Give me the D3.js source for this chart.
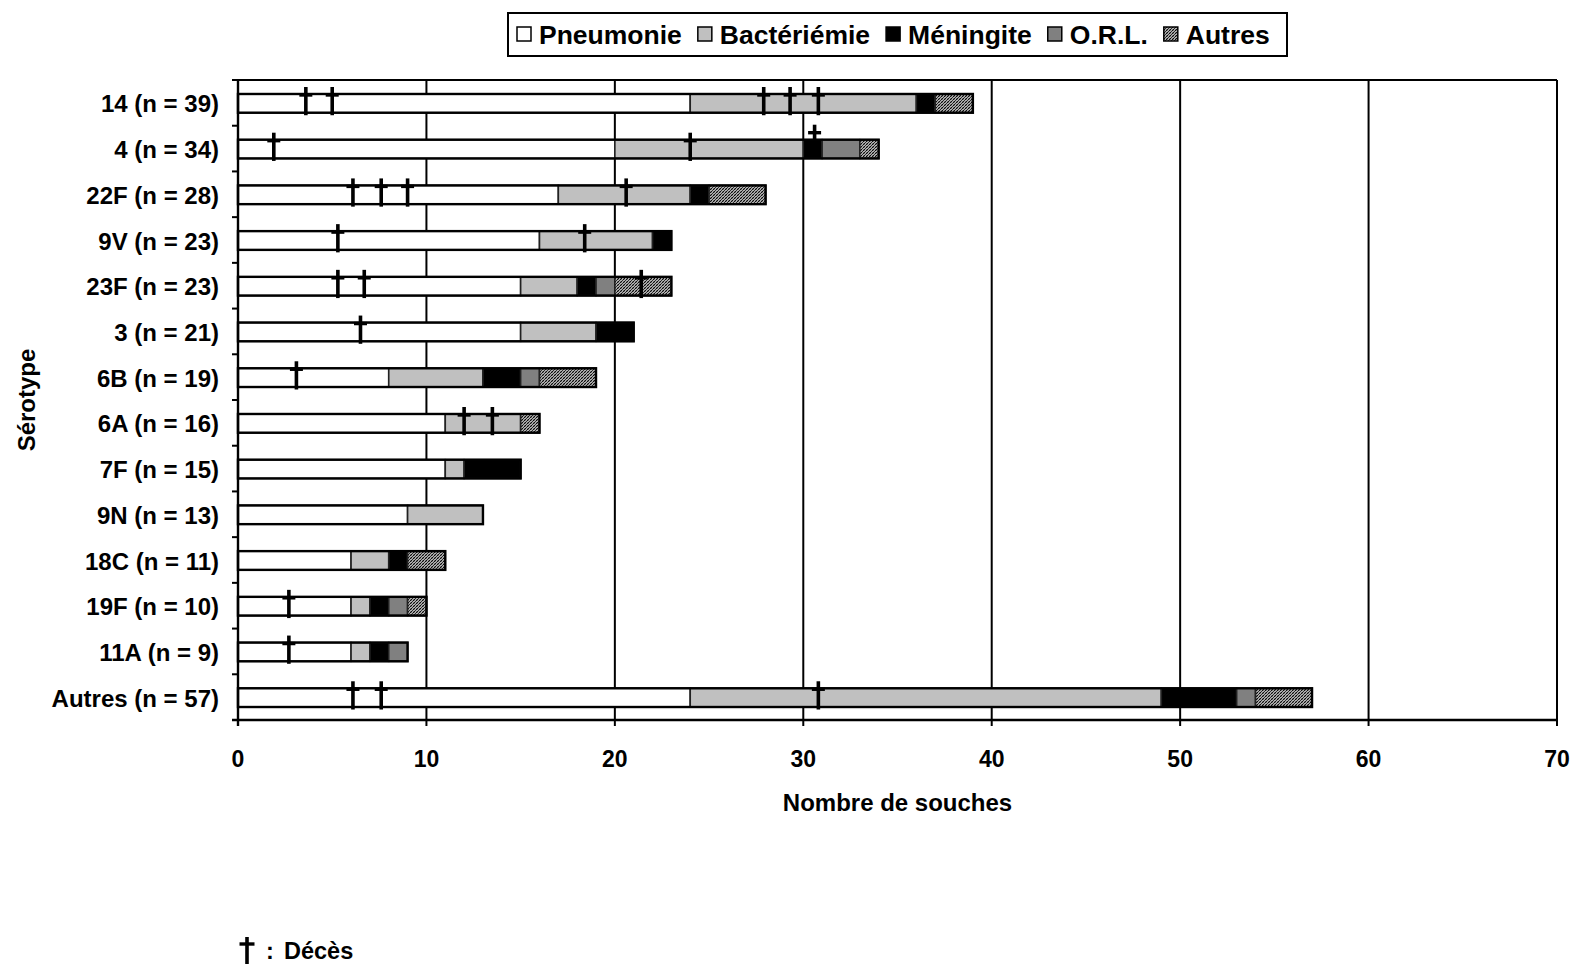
<!DOCTYPE html>
<html>
<head>
<meta charset="utf-8">
<script src="https://cdn.jsdelivr.net/npm/d3@7"></script>
<style>
  html, body { margin: 0; padding: 0; background: #fff; }
  svg { display: block; font-family: "Liberation Sans", Arial, sans-serif; font-weight: bold; }
</style>
</head>
<body>
<svg id="chart" width="1575" height="966"></svg>
<script>
// Sérotypes (ordre d'affichage, du haut vers le bas)
const serotypes = ["14 (n = 39)", "4 (n = 34)", "22F (n = 28)", "9V (n = 23)", "23F (n = 23)",
  "3 (n = 21)", "6B (n = 19)", "6A (n = 16)", "7F (n = 15)", "9N (n = 13)",
  "18C (n = 11)", "19F (n = 10)", "11A (n = 9)", "Autres (n = 57)"];

// Nombre de souches par type d'infection
const pneumonie   = [24, 20, 17, 16, 15, 15, 8, 11, 11, 9, 6, 6, 6, 24];
const bacteriemie = [12, 10, 7, 6, 3, 4, 5, 4, 1, 4, 2, 1, 1, 25];
const meningite   = [1, 1, 1, 1, 1, 2, 2, 0, 3, 0, 1, 1, 1, 4];
const orl         = [0, 2, 0, 0, 1, 0, 1, 0, 0, 0, 0, 1, 1, 1];
const autres      = [2, 1, 3, 0, 3, 0, 3, 1, 0, 0, 2, 1, 0, 3];

// Décès : position de chaque croix sur l'axe des souches
const deces = [
  [3.6, 5.0, 27.9, 29.3, 30.8],
  [1.9, 24.0, 30.6],
  [6.1, 7.6, 9.0, 20.6],
  [5.3, 18.4],
  [5.3, 6.7, 21.4],
  [6.5],
  [3.1],
  [12.0, 13.5],
  [],
  [],
  [],
  [2.7],
  [2.7],
  [6.1, 7.6, 30.8]
];

const seriesNames = ["Pneumonie", "Bactériémie", "Méningite", "O.R.L.", "Autres"];
const xTicks = [0, 10, 20, 30, 40, 50, 60, 70];

const svg = d3.select("#chart");
const margin = { left: 238, right: 18, top: 80, bottom: 246 };
const W = 1575, H = 966;

// Motif hachuré fin pour la catégorie « Autres »
const defs = svg.append("defs");
const pat = defs.append("pattern")
  .attr("id", "hatch").attr("patternUnits", "userSpaceOnUse")
  .attr("width", 3).attr("height", 3);
pat.append("rect").attr("width", 3).attr("height", 3).attr("fill", "#fff");
pat.append("path").attr("d", "M-1,1 l2,-2 M0,3 l3,-3 M2,4 l2,-2")
  .attr("stroke", "#000").attr("stroke-width", 1.2);
pat.append("path").attr("d", "M0,0 l3,3")
  .attr("stroke", "#555").attr("stroke-width", 0.5);

const fills = ["#ffffff", "#c0c0c0", "#000000", "#808080", "url(#hatch)"];

const rows = serotypes.map((s, i) => ({
  label: s,
  values: [pneumonie[i], bacteriemie[i], meningite[i], orl[i], autres[i]],
  deaths: deces[i]
}));
const stacked = d3.stack().keys([0, 1, 2, 3, 4]).value((d, k) => d.values[k])(rows);

const x = d3.scaleLinear().domain([0, 70]).range([margin.left, W - margin.right]);
const y = d3.scaleBand().domain(serotypes).range([margin.top, H - margin.bottom]).padding(0);
const barH = y.bandwidth() * 0.41;
const barY = d => y(d) + (y.bandwidth() - barH) / 2 + 0.5;

// Quadrillage vertical
svg.append("g").selectAll("line").data(xTicks.filter(t => t > 0)).join("line")
  .attr("x1", d => x(d)).attr("x2", d => x(d))
  .attr("y1", margin.top).attr("y2", H - margin.bottom)
  .attr("stroke", "#000").attr("stroke-width", 2);

// Bord supérieur
svg.append("line")
  .attr("x1", x(0)).attr("x2", x(70)).attr("y1", margin.top).attr("y2", margin.top)
  .attr("stroke", "#000").attr("stroke-width", 2);

// Barres empilées
svg.append("g").selectAll("g").data(stacked).join("g")
  .attr("fill", (d, i) => fills[i])
  .selectAll("rect").data(d => d.filter(s => s[1] > s[0])).join("rect")
  .attr("x", d => x(d[0]))
  .attr("y", d => barY(d.data.label))
  .attr("width", d => x(d[1]) - x(d[0]))
  .attr("height", barH)
  .attr("stroke", "#222").attr("stroke-width", 1.6);

// Contour extérieur de chaque barre
svg.append("g").selectAll("rect").data(rows).join("rect")
  .attr("x", x(0)).attr("y", d => barY(d.label))
  .attr("width", d => x(d3.sum(d.values)) - x(0)).attr("height", barH)
  .attr("fill", "none").attr("stroke", "#000").attr("stroke-width", 2.4);

// Croix (décès)
function cross(g, cx, top, bottom, barAt, w) {
  g.append("line").attr("x1", cx).attr("x2", cx).attr("y1", top).attr("y2", bottom)
    .attr("stroke", "#000").attr("stroke-width", 3.6);
  g.append("line").attr("x1", cx - w / 2).attr("x2", cx + w / 2).attr("y1", barAt).attr("y2", barAt)
    .attr("stroke", "#000").attr("stroke-width", 3.4);
}
const crosses = svg.append("g");
rows.forEach((r, i) => {
  const top = barY(r.label), bottom = top + barH;
  // limites du segment Méningite : une croix qui y tombe est placée au-dessus de la barre
  const mStart = r.values[0] + r.values[1], mEnd = mStart + r.values[2];
  r.deaths.forEach(v => {
    const cx = x(v);
    if (v > mStart && v < mEnd) {
      cross(crosses, cx, top - 15, top, top - 7, 13);
    } else {
      cross(crosses, cx, top - 7, bottom + 2.5, top + 1, 13);
    }
  });
});

// Axe vertical et graduations entre catégories
svg.append("line").attr("x1", x(0)).attr("x2", x(0))
  .attr("y1", margin.top).attr("y2", H - margin.bottom + 6)
  .attr("stroke", "#000").attr("stroke-width", 2.4);
const bounds = serotypes.map(s => y(s)).concat([H - margin.bottom]);
svg.append("g").selectAll("line").data(bounds).join("line")
  .attr("x1", x(0) - 6).attr("x2", x(0))
  .attr("y1", d => d).attr("y2", d => d)
  .attr("stroke", "#000").attr("stroke-width", 2);

// Axe horizontal
svg.append("line").attr("x1", x(0) - 6).attr("x2", x(70))
  .attr("y1", H - margin.bottom).attr("y2", H - margin.bottom)
  .attr("stroke", "#000").attr("stroke-width", 2.6);
svg.append("g").selectAll("line").data(xTicks).join("line")
  .attr("x1", d => x(d)).attr("x2", d => x(d))
  .attr("y1", H - margin.bottom).attr("y2", H - margin.bottom + 6)
  .attr("stroke", "#000").attr("stroke-width", 2);
svg.append("g").selectAll("text").data(xTicks).join("text")
  .attr("x", d => x(d)).attr("y", H - margin.bottom + 47)
  .attr("text-anchor", "middle").attr("font-size", 23)
  .text(d => d);

// Étiquettes des sérotypes
svg.append("g").selectAll("text").data(serotypes).join("text")
  .attr("x", 219).attr("y", d => y(d) + y.bandwidth() / 2 + 1)
  .attr("dy", "0.36em").attr("text-anchor", "end").attr("font-size", 24)
  .text(d => d);

// Titres d'axes
svg.append("text").attr("x", (x(0) + x(70)) / 2).attr("y", 802).attr("dy", "0.36em")
  .attr("text-anchor", "middle").attr("font-size", 24).text("Nombre de souches");
svg.append("text").attr("transform", "translate(26,400) rotate(-90)").attr("dy", "0.36em")
  .attr("text-anchor", "middle").attr("font-size", 24).text("Sérotype");

// Légende
const leg = svg.append("g");
leg.append("rect").attr("x", 508).attr("y", 13).attr("width", 779).attr("height", 43)
  .attr("fill", "#fff").attr("stroke", "#000").attr("stroke-width", 2);
let lx = 517;
seriesNames.forEach((name, i) => {
  leg.append("rect").attr("x", lx).attr("y", 27).attr("width", 14).attr("height", 14)
    .attr("fill", fills[i]).attr("stroke", "#000").attr("stroke-width", 1.5);
  const t = leg.append("text").attr("x", lx + 22).attr("y", 34).attr("dy", "0.36em")
    .attr("font-size", 26.5).text(name);
  lx += 22 + t.node().getComputedTextLength() + 16;
});

// Note : signification de la croix
cross(svg, 247, 937, 964, 944, 15);
svg.append("text").attr("x", 266).attr("y", 951).attr("dy", "0.36em")
  .attr("font-size", 23.5).text(":");
svg.append("text").attr("x", 284).attr("y", 951).attr("dy", "0.36em")
  .attr("font-size", 23.5).text("Décès");
</script>
</body>
</html>
